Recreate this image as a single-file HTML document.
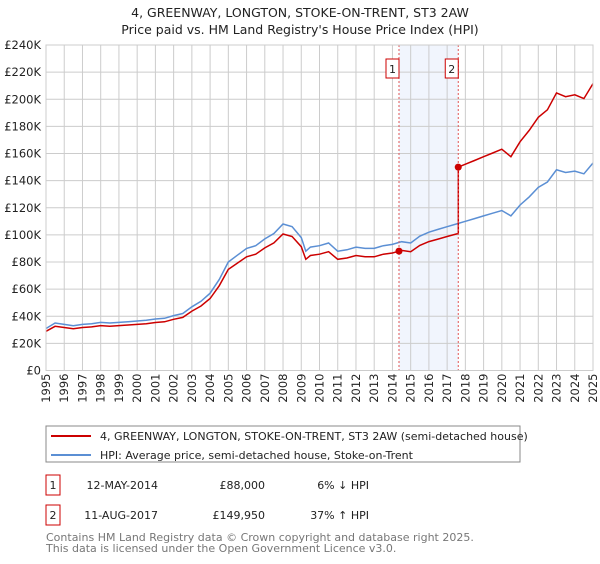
<!DOCTYPE html>
<html><head><meta charset="utf-8"><style>
body{margin:0;background:#fff;font-family:"DejaVu Sans","Liberation Sans",sans-serif;}
svg text{font-family:"DejaVu Sans","Liberation Sans",sans-serif;}
</style></head><body>
<svg id="chart" width="600" height="560" viewBox="0 0 600 560">
<text x="300" y="17" font-size="12.5" text-anchor="middle" fill="#222">4, GREENWAY, LONGTON, STOKE-ON-TRENT, ST3 2AW</text>
<text x="300" y="34" font-size="12.5" text-anchor="middle" fill="#222">Price paid vs. HM Land Registry's House Price Index (HPI)</text>
<g id="grid"></g>
<g id="marks"></g>
<g>
<rect x="46" y="426" width="474" height="36" fill="#fff" stroke="#888"/>
<line x1="51" y1="436" x2="91" y2="436" stroke="#cc0000" stroke-width="2"/>
<text x="100" y="440" font-size="11" fill="#222">4, GREENWAY, LONGTON, STOKE-ON-TRENT, ST3 2AW (semi-detached house)</text>
<line x1="51" y1="455" x2="91" y2="455" stroke="#5b8fd4" stroke-width="2"/>
<text x="100" y="459" font-size="11" fill="#222">HPI: Average price, semi-detached house, Stoke-on-Trent</text>
</g>
<g>
<rect x="46" y="475" width="14" height="20" fill="#fff" stroke="#cc0000"/>
<text x="53" y="489" font-size="11" text-anchor="middle" fill="#222">1</text>
<text x="158" y="489" font-size="11" text-anchor="end" fill="#222">12-MAY-2014</text>
<text x="265" y="489" font-size="11" text-anchor="end" fill="#222">£88,000</text>
<text x="369" y="489" font-size="11" text-anchor="end" fill="#222">6% ↓ HPI</text>
<rect x="46" y="505" width="14" height="20" fill="#fff" stroke="#cc0000"/>
<text x="53" y="519" font-size="11" text-anchor="middle" fill="#222">2</text>
<text x="158" y="519" font-size="11" text-anchor="end" fill="#222">11-AUG-2017</text>
<text x="265" y="519" font-size="11" text-anchor="end" fill="#222">£149,950</text>
<text x="369" y="519" font-size="11" text-anchor="end" fill="#222">37% ↑ HPI</text>
</g>
<text x="46" y="541" font-size="11" fill="#777">Contains HM Land Registry data © Crown copyright and database right 2025.</text>
<text x="46" y="552" font-size="11" fill="#777">This data is licensed under the Open Government Licence v3.0.</text>
</svg>
<script>
const hpiYears=[1995,1995.5,1996,1996.5,1997,1997.5,1998,1998.5,1999,1999.5,2000,2000.5,2001,2001.5,2002,2002.5,2003,2003.5,2004,2004.5,2005,2005.5,2006,2006.5,2007,2007.5,2008,2008.5,2009,2009.25,2009.5,2010,2010.5,2011,2011.5,2012,2012.5,2013,2013.5,2014,2014.5,2015,2015.5,2016,2016.5,2017,2017.5,2018,2018.5,2019,2019.5,2020,2020.5,2021,2021.5,2022,2022.5,2023,2023.5,2024,2024.5,2025];
const hpiValues=[31,35,34,33,34,34.5,35.5,35,35.5,36,36.5,37,38,38.5,40.5,42,47,51,57,67,80,85,90,92,97,101,108,106,98,88,91,92,94,88,89,91,90,90,92,93,95,94,99,102,104,106,108,110,112,114,116,118,114,122,128,135,139,148,146,147,145,153];
const saleYears=[2014.36,2017.61];
const salePrices=[88,149.95];
const saleLabels=["1","2"];
const yTicks=[0,20,40,60,80,100,120,140,160,180,200,220,240];
const yTickLabels=["£0","£20K","£40K","£60K","£80K","£100K","£120K","£140K","£160K","£180K","£200K","£220K","£240K"];
const xTicks=[1995,1996,1997,1998,1999,2000,2001,2002,2003,2004,2005,2006,2007,2008,2009,2010,2011,2012,2013,2014,2015,2016,2017,2018,2019,2020,2021,2022,2023,2024,2025];

const L=46,R=593,T=45,B=370.5;
const xs=y=>L+(y-1995)/30*(R-L);
const ys=v=>B-v/240*(B-T);
const NS="http://www.w3.org/2000/svg";
function mk(tag,attrs,parent){const e=document.createElementNS(NS,tag);for(const k in attrs)e.setAttribute(k,attrs[k]);parent.appendChild(e);return e;}
const grid=document.getElementById('grid'),marks=document.getElementById('marks');

const band=mk('rect',{x:xs(saleYears[0]),y:T,width:xs(saleYears[1])-xs(saleYears[0]),height:B-T,fill:'#eef3fc',opacity:0.8},grid);


yTicks.forEach((v,i)=>{
  const l=mk('line',{x1:L,x2:R,y1:ys(v),y2:ys(v),stroke:'#ccc','stroke-width':1},grid);
  
  
  const t=mk('text',{x:L-5,y:ys(v)+4,'font-size':11.5,'text-anchor':'end',fill:'#222'},grid);
  t.textContent=yTickLabels[i];
  
  
});
xTicks.forEach(y=>{
  const l=mk('line',{x1:xs(y),x2:xs(y),y1:T,y2:B,stroke:'#ccc','stroke-width':1},grid);
  
  
  const t=mk('text',{x:0,y:0,'font-size':11.5,'text-anchor':'end',fill:'#222',transform:`translate(${xs(y)+4},${B+3}) rotate(-90)`},grid);
  t.textContent=String(y);
  
  
});

// price paid series: HPI scaled to each sale
function hpiAt(y){for(let i=1;i<hpiYears.length;i++){if(y<=hpiYears[i]){const f=(y-hpiYears[i-1])/(hpiYears[i]-hpiYears[i-1]);return hpiValues[i-1]+f*(hpiValues[i]-hpiValues[i-1]);}}return hpiValues[hpiValues.length-1];}
const r1=salePrices[0]/hpiAt(saleYears[0]),r2=salePrices[1]/hpiAt(saleYears[1]);
const rBefore=r1, rMid=0.945;
let hp='',rp='';
hpiYears.forEach((y,i)=>{hp+=(i?'L':'M')+xs(y).toFixed(1)+','+ys(hpiValues[i]).toFixed(1);});
const redPts=[];
hpiYears.forEach((y,i)=>{
  if(y<saleYears[0])redPts.push([y,hpiValues[i]*rBefore]);
});
redPts.push([saleYears[0],salePrices[0]]);
hpiYears.forEach((y,i)=>{if(y>saleYears[0]&&y<saleYears[1])redPts.push([y,hpiValues[i]*r1]);});
redPts.push([saleYears[1],hpiAt(saleYears[1])*r1]);
redPts.push([saleYears[1],salePrices[1]]);
hpiYears.forEach((y,i)=>{if(y>saleYears[1])redPts.push([y,hpiValues[i]*r2]);});
redPts.forEach((p,i)=>{rp+=(i?'L':'M')+xs(p[0]).toFixed(1)+','+ys(p[1]).toFixed(1);});
const hl=mk('path',{d:hp,fill:'none',stroke:'#5b8fd4','stroke-width':1.5},marks);


const rl=mk('path',{d:rp,fill:'none',stroke:'#cc0000','stroke-width':1.5},marks);



saleYears.forEach((y,i)=>{
  const v=mk('line',{x1:xs(y),x2:xs(y),y1:T,y2:B,stroke:'#e05555','stroke-width':1,'stroke-dasharray':'2,2'},marks);
  
  
  const c=mk('circle',{cx:xs(y),cy:ys(salePrices[i]),r:3.5,fill:'#cc0000'},marks);
  
  
  const b=mk('rect',{x:xs(y)-13,y:59,width:13,height:19,fill:'#fff',stroke:'#cc0000'},marks);
  
  
  const t=mk('text',{x:xs(y)-6.5,y:73,'font-size':11,'text-anchor':'middle',fill:'#222'},marks);
  t.textContent=saleLabels[i];
  
  
});
const ax=mk('rect',{x:L,y:T,width:R-L,height:B-T,fill:'none',stroke:'#ccc'},marks);


</script>
</body></html>
